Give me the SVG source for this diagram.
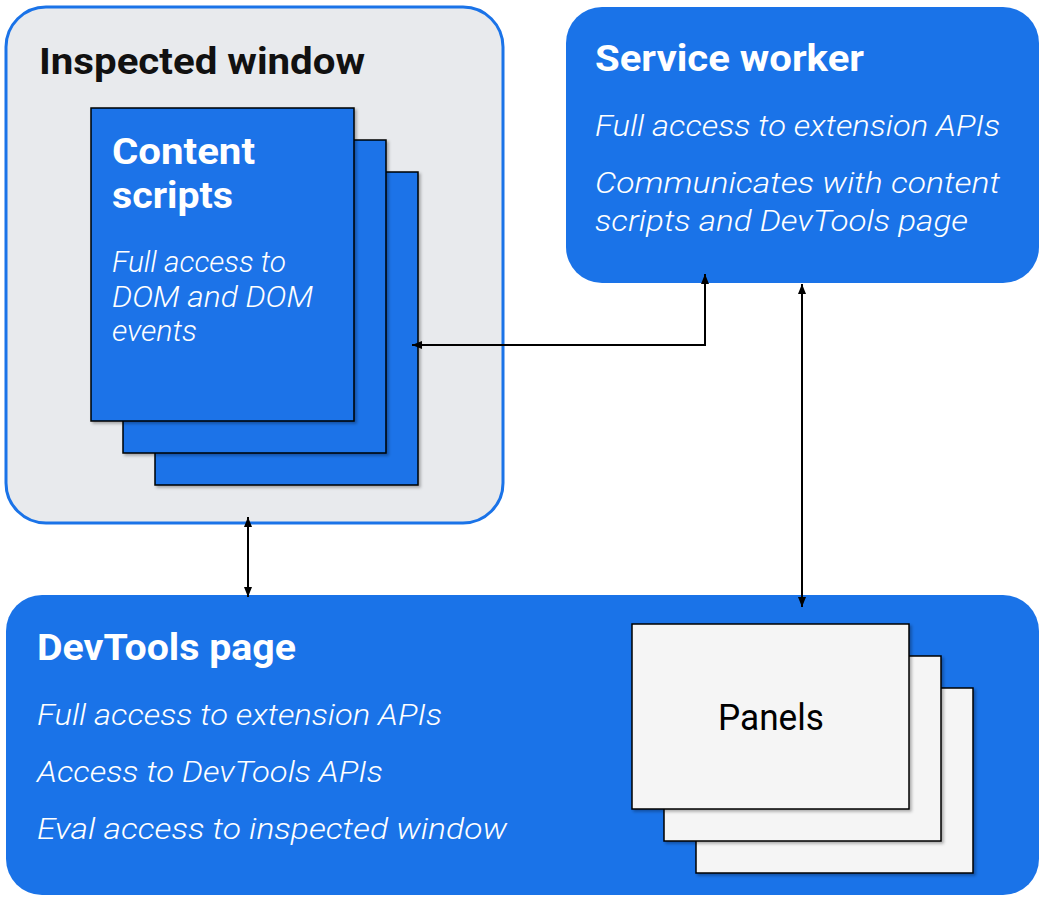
<svg xmlns="http://www.w3.org/2000/svg" width="1053" height="904" viewBox="0 0 1053 904">
  <style>
    .title { font-family: Roboto, "Liberation Sans", sans-serif; font-weight: bold; font-size: 36px; }
    .body { font-family: Roboto, "Liberation Sans", sans-serif; font-style: italic; font-weight: 300; font-size: 30px; fill: #ffffff; }
    .white { fill: #ffffff; }
    .dark { fill: #111111; }
    .card { fill: #1a73e8; stroke: #000000; stroke-width: 1.5; }
    .panel { fill: #f5f5f5; stroke: #000000; stroke-width: 1.5; }
    .conn { fill: none; stroke: #000000; stroke-width: 2; }
  </style>
  <defs>
    <marker id="arrow" viewBox="0 0 10 8" refX="10" refY="4" markerWidth="10" markerHeight="8" markerUnits="userSpaceOnUse" orient="auto-start-reverse">
      <path d="M0,0 L10,4 L0,8 z" fill="#000000"/>
    </marker>
    <filter id="shadow" x="-5%" y="-5%" width="115%" height="115%">
      <feDropShadow dx="2" dy="2" stdDeviation="1.5" flood-color="#000000" flood-opacity="0.3"/>
    </filter>
  </defs>
  <rect width="1053" height="904" fill="#ffffff"/>

  <g id="inspected-window">
    <rect x="6" y="7" width="497" height="516" rx="40" ry="40" fill="#e8eaed" stroke="#1a73e8" stroke-width="3"/>
    <text class="title dark" x="39" y="74" textLength="326" lengthAdjust="spacingAndGlyphs">Inspected window</text>
  </g>

  <g id="content-scripts">
    <rect class="card" x="155" y="172" width="263" height="313" filter="url(#shadow)"/>
    <rect class="card" x="123" y="140" width="263" height="313" filter="url(#shadow)"/>
    <rect class="card" x="91" y="108" width="263" height="313" filter="url(#shadow)"/>
    <text class="title white" x="112" y="164" textLength="143" lengthAdjust="spacingAndGlyphs">Content</text>
    <text class="title white" x="112" y="208" textLength="121" lengthAdjust="spacingAndGlyphs">scripts</text>
    <text class="body" x="112" y="272" textLength="174" lengthAdjust="spacingAndGlyphs">Full access to</text>
    <text class="body" x="112" y="307" textLength="201" lengthAdjust="spacingAndGlyphs">DOM and DOM</text>
    <text class="body" x="112" y="341" textLength="85" lengthAdjust="spacingAndGlyphs">events</text>
  </g>

  <g id="service-worker">
    <rect x="566" y="7" width="473" height="276" rx="36" ry="36" fill="#1a73e8"/>
    <text class="title white" x="595" y="71" textLength="269" lengthAdjust="spacingAndGlyphs">Service worker</text>
    <text class="body" x="595" y="136" textLength="405" lengthAdjust="spacingAndGlyphs">Full access to extension APIs</text>
    <text class="body" x="595" y="193" textLength="405" lengthAdjust="spacingAndGlyphs">Communicates with content</text>
    <text class="body" x="595" y="231" textLength="373" lengthAdjust="spacingAndGlyphs">scripts and DevTools page</text>
  </g>

  <g id="devtools-page">
    <rect x="6" y="595" width="1033" height="300" rx="36" ry="36" fill="#1a73e8"/>
    <text class="title white" x="37" y="660" textLength="259" lengthAdjust="spacingAndGlyphs">DevTools page</text>
    <text class="body" x="37" y="725" textLength="405" lengthAdjust="spacingAndGlyphs">Full access to extension APIs</text>
    <text class="body" x="37" y="782" textLength="346" lengthAdjust="spacingAndGlyphs">Access to DevTools APIs</text>
    <text class="body" x="37" y="839" textLength="470" lengthAdjust="spacingAndGlyphs">Eval access to inspected window</text>
  </g>

  <g id="panels">
    <rect class="panel" x="696" y="688" width="277" height="185" filter="url(#shadow)"/>
    <rect class="panel" x="664" y="656" width="277" height="185" filter="url(#shadow)"/>
    <rect class="panel" x="632" y="624" width="277" height="185" filter="url(#shadow)"/>
    <text x="718" y="730" textLength="106" lengthAdjust="spacingAndGlyphs" style="font-family: Roboto, 'Liberation Sans', sans-serif; font-size: 37px; fill: #000000;">Panels</text>
  </g>

  <g id="connectors">
    <path class="conn" d="M705,274 V345 H412" marker-start="url(#arrow)" marker-end="url(#arrow)"/>
    <path class="conn" d="M802,284 V607" marker-start="url(#arrow)" marker-end="url(#arrow)"/>
    <path class="conn" d="M248,517 V597" marker-start="url(#arrow)" marker-end="url(#arrow)"/>
  </g>
</svg>
